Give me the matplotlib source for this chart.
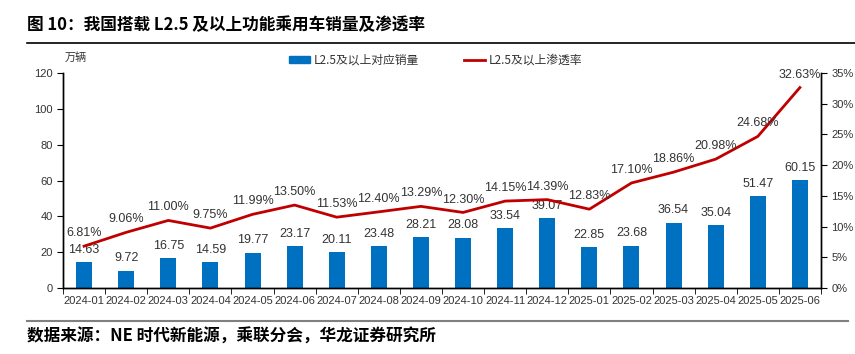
import matplotlib
matplotlib.use("Agg")
import matplotlib.pyplot as plt
from matplotlib.lines import Line2D
from matplotlib.patches import Patch
import numpy as np

plt.rcParams['font.family'] = ['Noto Sans CJK SC', 'DejaVu Sans']

months = ["2024-01", "2024-02", "2024-03", "2024-04", "2024-05", "2024-06",
          "2024-07", "2024-08", "2024-09", "2024-10", "2024-11", "2024-12",
          "2025-01", "2025-02", "2025-03", "2025-04", "2025-05", "2025-06"]
sales = [14.63, 9.72, 16.75, 14.59, 19.77, 23.17, 20.11, 23.48, 28.21,
         28.08, 33.54, 39.07, 22.85, 23.68, 36.54, 35.04, 51.47, 60.15]
rate = [6.81, 9.06, 11.00, 9.75, 11.99, 13.50, 11.53, 12.40, 13.29,
        12.30, 14.15, 14.39, 12.83, 17.10, 18.86, 20.98, 24.68, 32.63]
left_ticks = [0, 20, 40, 60, 80, 100, 120]
right_ticks = [0, 5, 10, 15, 20, 25, 30, 35]

bar_color = "#0070C0"
line_color = "#C00000"
text_color = "#333333"
num_font = ['Liberation Sans', 'DejaVu Sans']

fig = plt.figure(figsize=(8.55, 3.54), dpi=100)
ax = fig.add_axes([0.0737, 0.1864, 0.8865, 0.6074])
ax2 = ax.twinx()

x = np.arange(len(months))
ax.bar(x, sales, width=0.38, color=bar_color, zorder=2)
ax.set_ylim(0, 120)
ax.set_yticks(left_ticks)
ax.set_xlim(-0.5, len(months) - 0.5)
ax.set_xticks(x)
ax.set_xticklabels(months)
ax.set_xticks(np.arange(len(months) + 1) - 0.5, minor=True)
ax.tick_params(axis='x', which='major', length=0, pad=6)
ax.tick_params(axis='x', which='minor', length=4, direction='out')
ax.tick_params(axis='y', length=4)
for t in ax.get_xticklabels() + ax.get_yticklabels():
    t.set_color(text_color)
    t.set_family(num_font)
    t.set_fontsize(8)

ax2.plot(x, rate, color=line_color, lw=2, zorder=3)
ax2.set_ylim(0, 35)
ax2.set_yticks(right_ticks)
ax2.set_yticklabels([f"{v}%" for v in right_ticks])
ax2.tick_params(axis='y', length=4)
for t in ax2.get_yticklabels():
    t.set_color(text_color)
    t.set_family(num_font)
    t.set_fontsize(8)

for a in (ax, ax2):
    a.spines["top"].set_visible(False)
    for s in ["left", "right", "bottom"]:
        a.spines[s].set_linewidth(1.0)
        a.spines[s].set_color("black")

for xi, v in zip(x, sales):
    ax.annotate(f"{v:.2f}", (xi, v), xytext=(0, 4.5), textcoords="offset points",
                ha="center", va="bottom", fontsize=9, color=text_color,
                family=num_font)
for xi, v in zip(x, rate):
    ax2.annotate(f"{v:.2f}%", (xi, v), xytext=(0, 5), textcoords="offset points",
                 ha="center", va="bottom", fontsize=9, color=text_color,
                 family=num_font)

ax.text(0.002, 1.045, "万辆", transform=ax.transAxes, fontsize=8, color=text_color,
        ha="left", va="bottom")

handles = [Patch(color=bar_color), Line2D([], [], color=line_color, lw=2)]
labels = ["L2.5及以上对应销量", "L2.5及以上渗透率"]
fig.legend(handles, labels, loc="center", bbox_to_anchor=(0.509, 0.83), ncol=2,
           frameon=False, fontsize=8.5, handlelength=1.8, handleheight=0.5,
           columnspacing=3.8, handletextpad=0.3, labelcolor=text_color)

fig.text(0.032, 0.929, "图 10：我国搭载 L2.5 及以上功能乘用车销量及渗透率",
         fontsize=12, fontweight="bold", ha="left", va="center")
fig.add_artist(Line2D([0.032, 1.0], [0.8785, 0.8785], color="black", lw=1.2,
                      transform=fig.transFigure))
fig.add_artist(Line2D([0.032, 0.992], [0.0932, 0.0932], color="#808080", lw=1.5,
                      transform=fig.transFigure))
fig.text(0.032, 0.048, "数据来源：NE 时代新能源，乘联分会，华龙证券研究所",
         fontsize=12, fontweight="bold", ha="left", va="center")

fig.savefig("out.png", dpi=100)
